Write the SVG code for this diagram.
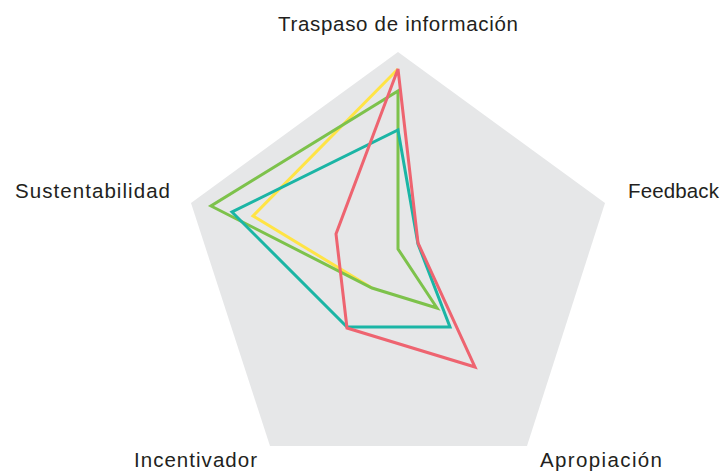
<svg xmlns="http://www.w3.org/2000/svg" width="728" height="473" viewBox="0 0 728 473">
<style>
.lbl{font-family:"Liberation Sans",Arial,sans-serif;font-size:20.5px;fill:#231F20}
.s{fill:none;stroke-width:3;stroke-linejoin:miter}
</style>
<rect width="728" height="473" fill="#FFFFFF"/>
<g id="background">
<polygon points="398,52 605,203 527,446 270,446 191,203" fill="#E6E7E8"/>
</g>
<g id="connectors">
<polyline class="s" stroke="#FFE445" points="398,69 253,216 372,288"/>
<polygon class="s" stroke="#7DC24B" points="398,91 398,249 437,308 372,288 211,206"/>
<polygon class="s" stroke="#1BB5A5" points="398,130 418,244 450,327 347,327 232,212"/>
<polygon class="s" stroke="#EE6470" points="398,69 418,243 475,367 347,328 336,234"/>
</g>
<g id="label-traspaso"><text class="lbl" x="278" y="31" textLength="240" lengthAdjust="spacing">Traspaso de información</text></g>
<g id="label-feedback"><text class="lbl" x="628" y="198" textLength="91" lengthAdjust="spacing">Feedback</text></g>
<g id="label-apropiacion"><text class="lbl" x="540" y="467" textLength="122" lengthAdjust="spacing">Apropiación</text></g>
<g id="label-incentivador"><text class="lbl" x="134" y="467" textLength="123" lengthAdjust="spacing">Incentivador</text></g>
<g id="label-sustentabilidad"><text class="lbl" x="15" y="198" textLength="155" lengthAdjust="spacing">Sustentabilidad</text></g>
</svg>
